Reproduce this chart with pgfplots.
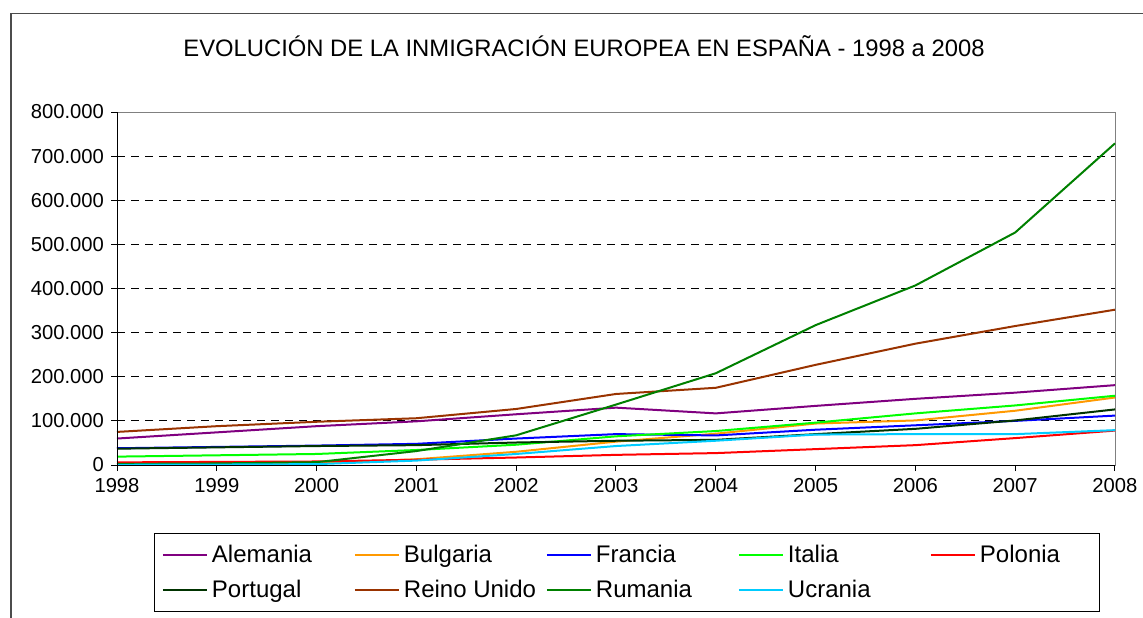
\documentclass[border=0pt]{standalone}
\usepackage{fontspec}
\setmainfont{Liberation Sans}
\usepackage{pgfplots}
\pgfplotsset{compat=1.18}
\definecolor{cAle}{HTML}{800080}
\definecolor{cBul}{HTML}{FF9900}
\definecolor{cFra}{HTML}{0000FF}
\definecolor{cIta}{HTML}{00FF00}
\definecolor{cPol}{HTML}{FF0000}
\definecolor{cPor}{HTML}{003300}
\definecolor{cRei}{HTML}{993300}
\definecolor{cRum}{HTML}{008000}
\definecolor{cUcr}{HTML}{00CCFF}
\begin{document}
\begin{tikzpicture}
\draw[gray!60!black, line width=0.75pt] (5.5pt,-5pt) -- (5.5pt,301.75pt) -- (580pt,301.75pt);
\node[font=\fontsize{11.9}{14}\selectfont] at (292pt,285.5pt) {EVOLUCIÓN DE LA INMIGRACIÓN EUROPEA EN ESPAÑA - 1998 a 2008};
\begin{axis}[
  at={(58.5pt,76pt)}, anchor=south west,
  scale only axis, width=499pt, height=176.5pt,
  xmin=1998, xmax=2008, ymin=0, ymax=800000,
  xtick={1998,...,2008}, ytick={0,100000,...,800000},
  scaled y ticks=false,
  clip=false,
  tick align=outside, major tick length=3pt,
  xtick pos=lower, ytick pos=left,
  ymajorgrids, major grid style={black, dash pattern=on 4pt off 3pt, line width=0.5pt},
  axis line style={gray, line width=0.5pt},
  tick style={black, line width=0.5pt},
  /pgf/number format/assume math mode=true,
  yticklabel style={/pgf/number format/.cd, fixed, precision=0, 1000 sep={.}},
  xticklabel style={/pgf/number format/1000 sep={}},
  ticklabel style={font=\fontsize{10.1}{12}\selectfont},
  every axis plot/.append style={line width=1pt, no markers},
  legend columns=5,
  legend cell align=left,
  legend style={at={(0.511,-0.305)}, anchor=center, draw=black, line width=0.5pt,
    font=\fontsize{12}{14}\selectfont, inner sep=3.5pt, row sep=3.5pt,
    /tikz/every even column/.append style={column sep=0pt}},
  legend image code/.code={\draw[#1, line width=1pt] (0pt,0pt) -- (22pt,0pt);},
]
\addplot[cAle] coordinates {(1998,60000) (1999,74000) (2000,88000) (2001,99000) (2002,115000) (2003,130000) (2004,117000) (2005,134000) (2006,150000) (2007,164000) (2008,181000)};
\addlegendentry{\makebox[69pt][l]{Alemania}}
\addplot[cBul] coordinates {(1998,1500) (1999,2500) (2000,4000) (2001,13000) (2002,30000) (2003,53000) (2004,71000) (2005,94000) (2006,101000) (2007,123000) (2008,153000)};
\addlegendentry{\makebox[69pt][l]{Bulgaria}}
\addplot[cFra] coordinates {(1998,38000) (1999,41000) (2000,44000) (2001,48000) (2002,60000) (2003,70000) (2004,67000) (2005,80000) (2006,90000) (2007,100000) (2008,112000)};
\addlegendentry{\makebox[69pt][l]{Francia}}
\addplot[cIta] coordinates {(1998,19000) (1999,22000) (2000,25000) (2001,34000) (2002,46000) (2003,65000) (2004,77000) (2005,96000) (2006,117000) (2007,135000) (2008,157000)};
\addlegendentry{\makebox[69pt][l]{Italia}}
\addplot[cPol] coordinates {(1998,6000) (1999,7000) (2000,8000) (2001,12000) (2002,17000) (2003,23000) (2004,27000) (2005,36000) (2006,45000) (2007,61000) (2008,78000)};
\addlegendentry{\makebox[54pt][l]{Polonia}}
\addplot[cPor] coordinates {(1998,37000) (1999,40000) (2000,43000) (2001,45000) (2002,51000) (2003,55000) (2004,57000) (2005,70000) (2006,82000) (2007,101000) (2008,126000)};
\addlegendentry{\makebox[69pt][l]{Portugal}}
\addplot[cRei] coordinates {(1998,75000) (1999,88000) (2000,98000) (2001,106000) (2002,127000) (2003,161000) (2004,175000) (2005,227000) (2006,275000) (2007,315000) (2008,352000)};
\addlegendentry{\makebox[69pt][l]{Reino Unido}}
\addplot[cRum] coordinates {(1998,2400) (1999,3500) (2000,6400) (2001,31600) (2002,67300) (2003,137000) (2004,208000) (2005,317000) (2006,407000) (2007,527000) (2008,729000)};
\addlegendentry{\makebox[69pt][l]{Rumania}}
\addplot[cUcr] coordinates {(1998,500) (1999,1000) (2000,2000) (2001,10000) (2002,25000) (2003,43000) (2004,55000) (2005,69000) (2006,70000) (2007,70000) (2008,79000)};
\addlegendentry{\makebox[69pt][l]{Ucrania}}
\draw[black, line width=0.5pt] (rel axis cs:0,1) -- (rel axis cs:0,0) -- (rel axis cs:1,0);
\end{axis}
\pgfresetboundingbox
\useasboundingbox (0,0) rectangle (571.5pt,308.5pt);
\end{tikzpicture}
\end{document}
